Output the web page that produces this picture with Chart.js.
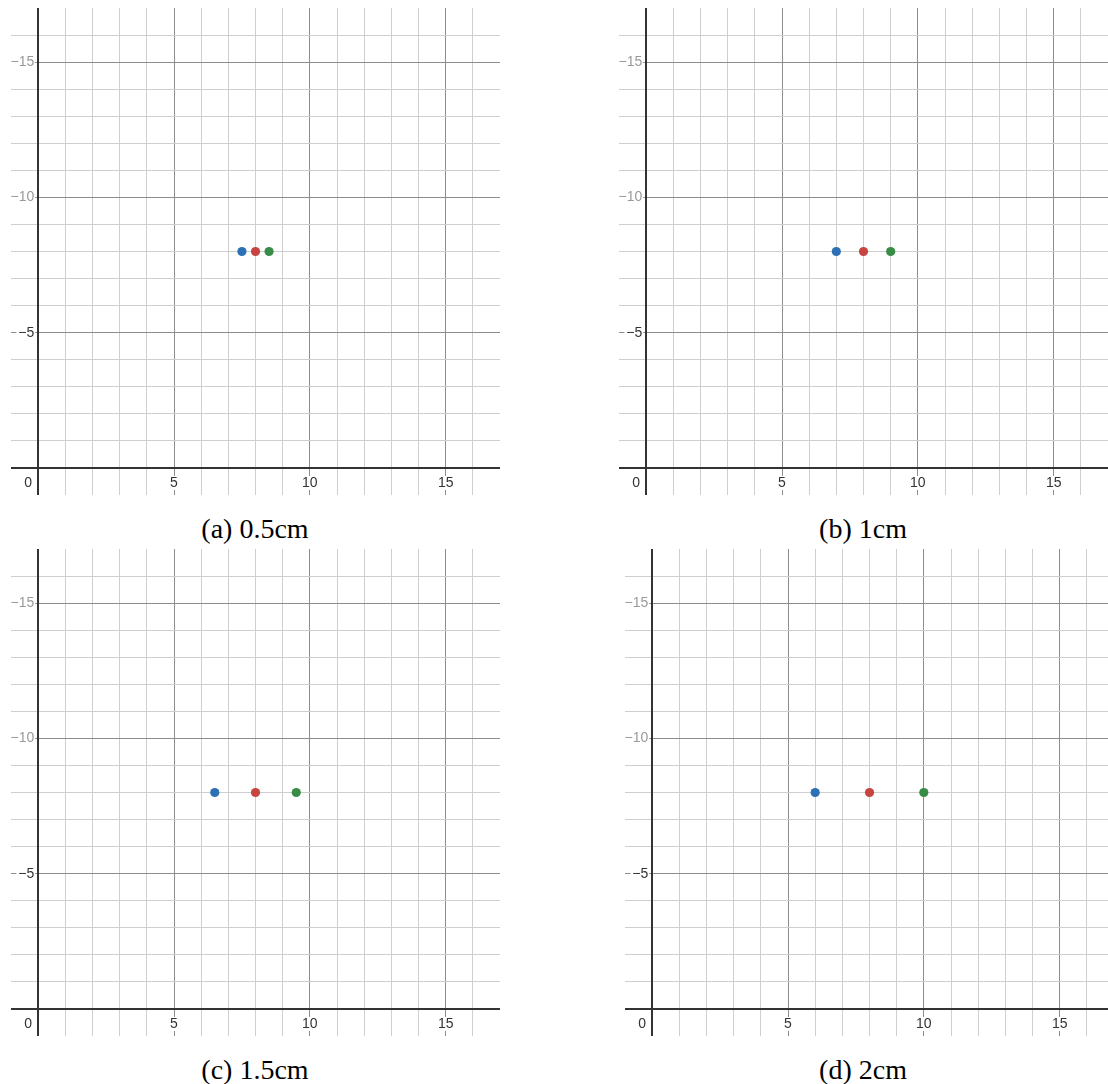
<!DOCTYPE html>
<html><head><meta charset="utf-8">
<script src="https://cdn.jsdelivr.net/npm/chart.js@4/dist/chart.umd.min.js"></script>
<style>
html,body{margin:0;padding:0;background:#fff;}
body{width:1108px;height:1084px;overflow:hidden;position:relative;}
.panel{position:absolute;width:489px;height:487px;}
.cap{position:absolute;width:554px;text-align:center;font-family:"Liberation Serif","Times New Roman",serif;font-size:28px;line-height:32px;color:#000;}
</style></head><body>
<div class="panel" style="left:11px;top:8px"><canvas id="c0" width="489" height="487"></canvas></div>
<div class="panel" style="left:619px;top:8px"><canvas id="c1" width="489" height="487"></canvas></div>
<div class="panel" style="left:11px;top:549px"><canvas id="c2" width="489" height="487"></canvas></div>
<div class="panel" style="left:625px;top:549px"><canvas id="c3" width="489" height="487"></canvas></div>
<div class="cap" id="t0" style="left:-22px;top:513px"></div>
<div class="cap" id="t1" style="left:586px;top:513px"></div>
<div class="cap" id="t2" style="left:-22px;top:1054px"></div>
<div class="cap" id="t3" style="left:586px;top:1054px"></div>
<script>
// ---- data ----
const captions = ['(a) 0.5cm', '(b) 1cm', '(c) 1.5cm', '(d) 2cm'];
const blueX  = [7.5, 7, 6.5, 6];
const redX   = [8, 8, 8, 8];
const greenX = [8.5, 9, 9.5, 10];
const pointY = [-8, -8, -8, -8];
const xRange = [-1, 17];
const yRange = [-17, 1];
const gridTicks = [0, 1, 2, 3, 4, 5, 6, 7, 8, 9, 10, 11, 12, 13, 14, 15, 16];
const yGridTicks = [-16, -15, -14, -13, -12, -11, -10, -9, -8, -7, -6, -5, -4, -3, -2, -1, 0];
const xTickLabels = [5, 10, 15];
const yTickLabels = [-15, -10, -5];
const originLabel = '0';
const colors = {blue: '#2d70b3', red: '#c74440', green: '#388c46'};

const FONT = '"Liberation Sans", Arial, sans-serif';
const MINOR = '#cfcfcf', MAJOR = '#8c8c8c', AXIS = '#333333';
function gridColor(ctx) {
  const v = ctx.tick && ctx.tick.value;
  if (v === 0) return 'rgba(0,0,0,0)';
  return (v % 5 === 0) ? MAJOR : MINOR;
}
function zeroPad(s) { s.paddingLeft = 0; s.paddingRight = 0; s.paddingTop = 0; s.paddingBottom = 0; }

function makeChart(i) {
  const ctx = document.getElementById('c' + i);
  document.getElementById('t' + i).textContent = captions[i];
  new Chart(ctx, {
    type: 'scatter',
    data: {
      datasets: [
        {data: [{x: blueX[i], y: pointY[i]}], backgroundColor: colors.blue},
        {data: [{x: redX[i], y: pointY[i]}], backgroundColor: colors.red},
        {data: [{x: greenX[i], y: pointY[i]}], backgroundColor: colors.green}
      ]
    },
    options: {
      responsive: false,
      animation: false,
      layout: {padding: 0, autoPadding: false},
      elements: {point: {radius: 4.6, borderWidth: 0, hoverRadius: 4.6}},
      plugins: {legend: {display: false}, tooltip: {enabled: false}},
      scales: {
        x: {
          type: 'linear', min: xRange[0], max: xRange[1], position: {y: 0},
          afterBuildTicks: s => { s.ticks = gridTicks.map(v => ({value: v})); },
          afterFit: zeroPad,
          grid: {color: gridColor, lineWidth: 1, drawTicks: false},
          border: {display: true, color: AXIS, width: 2},
          ticks: {
            autoSkip: false, maxRotation: 0, minRotation: 0, padding: 8,
            font: {family: FONT, size: 14, lineHeight: 1}, color: '#333',
            callback: v => xTickLabels.includes(v) ? String(v) : '',
            showLabelBackdrop: c => xTickLabels.includes(c.tick && c.tick.value),
            backdropColor: '#ffffff',
            backdropPadding: {top: 0, bottom: 0, left: 1, right: 1}
          }
        },
        x0: {
          type: 'linear', axis: 'x', min: xRange[0], max: xRange[1], position: {y: 0},
          afterBuildTicks: s => { s.ticks = [{value: 0}]; },
          afterFit: zeroPad,
          grid: {display: false, drawTicks: false},
          border: {display: false},
          ticks: {
            autoSkip: false, maxRotation: 0, minRotation: 0, padding: 8, labelOffset: -10,
            font: {family: FONT, size: 14, lineHeight: 1}, color: '#333',
            callback: v => v === 0 ? originLabel : ''
          }
        },
        y: {
          type: 'linear', min: yRange[0], max: yRange[1], reverse: true, position: {x: 0},
          afterBuildTicks: s => { s.ticks = yGridTicks.map(v => ({value: v})); },
          afterFit: zeroPad,
          grid: {color: gridColor, lineWidth: 1, drawTicks: false},
          border: {display: true, color: AXIS, width: 2},
          ticks: {
            autoSkip: false, padding: 0,
            font: {family: FONT, size: 14, lineHeight: 1},
            color: c => (c.tick && c.tick.value === -5) ? '#333' : '#9a9a9a',
            callback: v => yTickLabels.includes(v) ? '\u2212' + Math.abs(v) + ' ' : '',
            showLabelBackdrop: c => yTickLabels.includes(c.tick && c.tick.value),
            backdropColor: '#ffffff',
            backdropPadding: {top: 0, bottom: 0, left: 2, right: -3}
          }
        }
      }
    }
  });
}
[0, 1, 2, 3].forEach(makeChart);
</script>
</body></html>
